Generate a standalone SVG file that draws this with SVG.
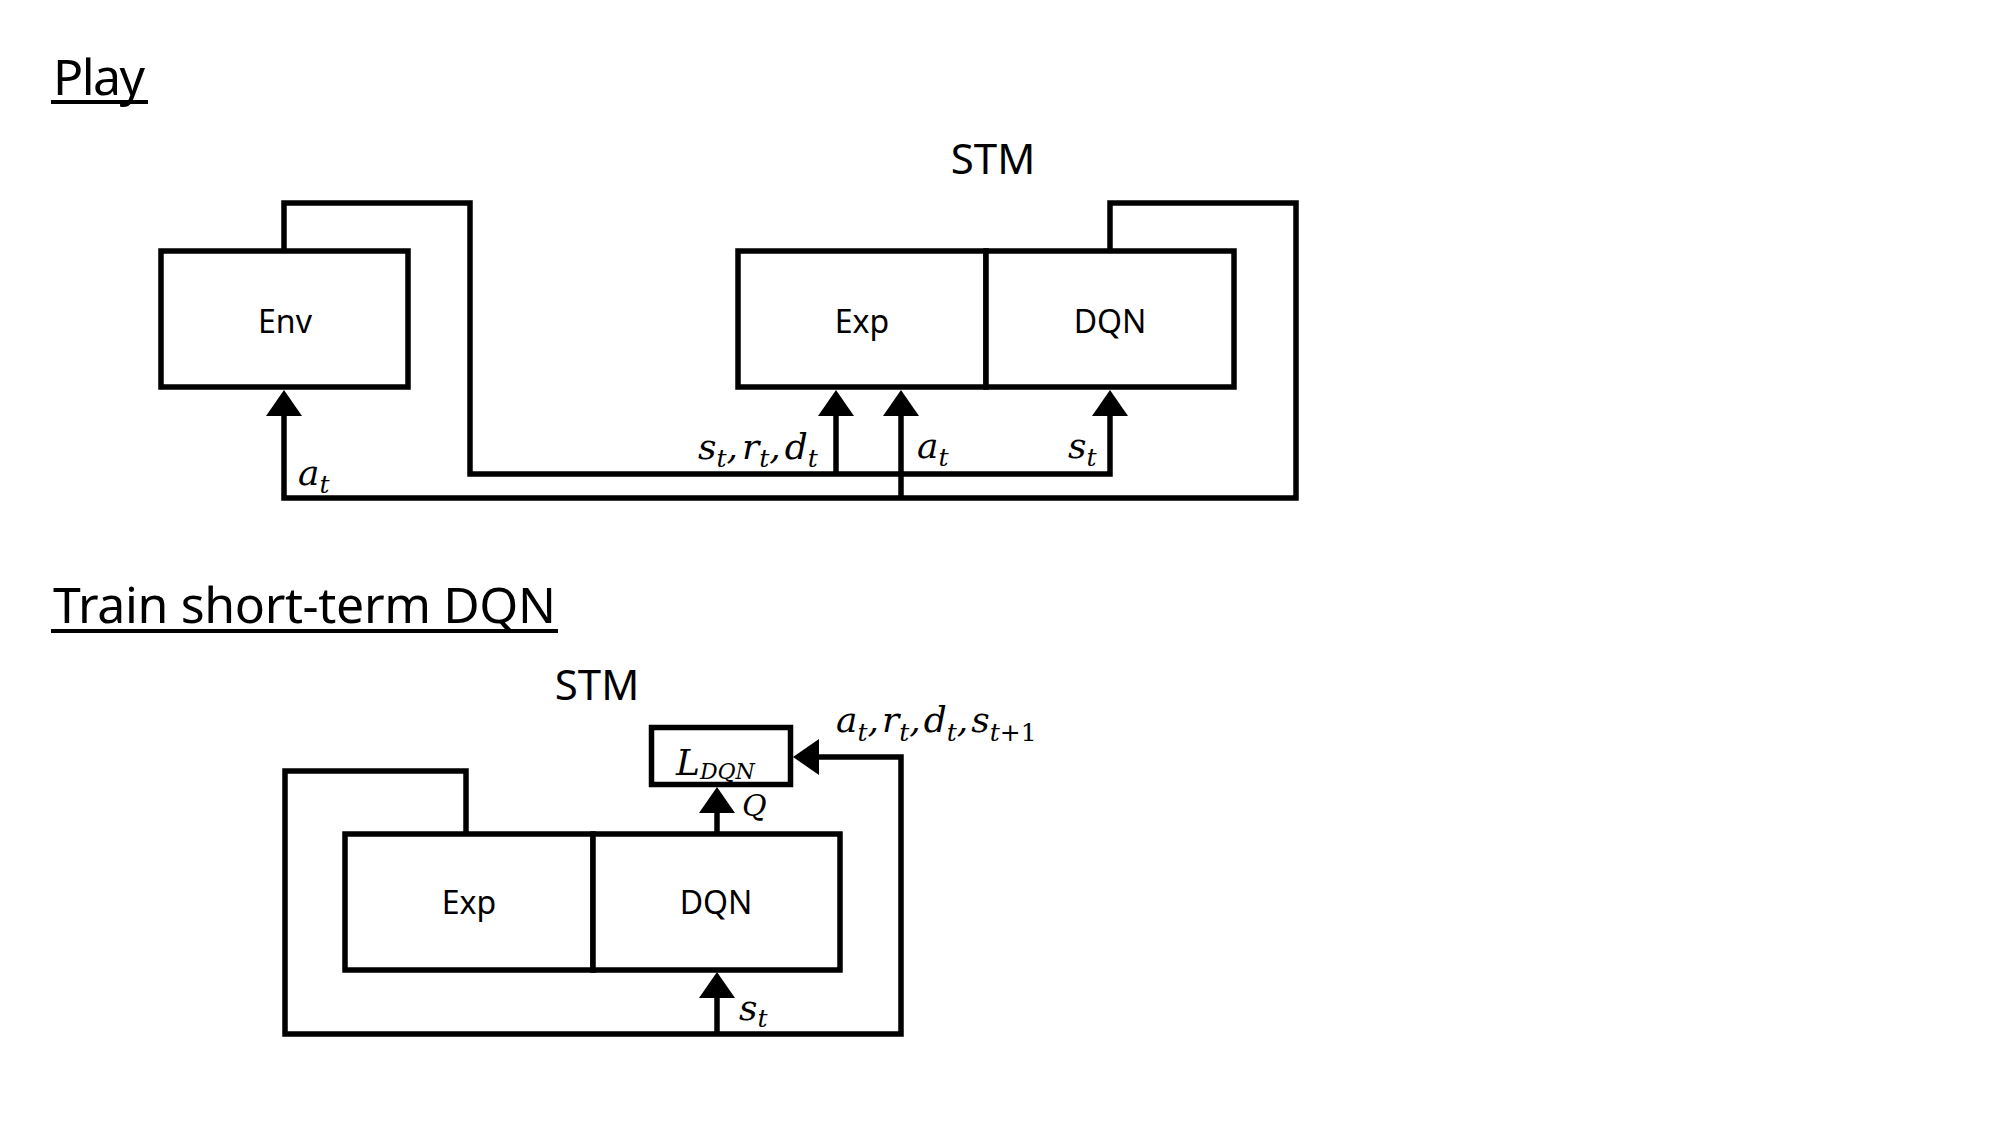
<svg xmlns="http://www.w3.org/2000/svg" width="2000" height="1125" viewBox="0 0 2000 1125">
<defs>
<style>
.box{fill:#fff;stroke:#000;stroke-width:5.5}
.wire{fill:none;stroke:#000;stroke-width:5.5;stroke-linejoin:miter;stroke-linecap:butt}
.ul{stroke:#000;stroke-width:4}
.lbl{font-family:"Noto Sans","Open Sans",sans-serif;font-size:32px;text-anchor:middle;fill:#000}
.title{font-family:"Noto Sans","Open Sans",sans-serif;font-size:50px;fill:#000}
.stm{font-family:"Noto Sans","Open Sans",sans-serif;font-size:42px;text-anchor:middle;fill:#000}
.m{font-family:"DejaVu Serif","Liberation Serif",serif;font-style:italic;font-size:36px;fill:#000}
.s{font-size:25px}
.up{font-style:normal}
</style>
<marker id="ah" markerUnits="userSpaceOnUse" viewBox="0 0 26 36" markerWidth="26" markerHeight="36" refX="2" refY="18" orient="auto">
<path d="M0,0 L26,18 L0,36 z" fill="#000"/>
</marker>
</defs>
<rect width="2000" height="1125" fill="#fff"/>

<g id="title-play">
<text class="title" x="53" y="95" textLength="92">Play</text>
<line class="ul" x1="51" y1="102" x2="148" y2="102"/>
</g>
<g id="title-train">
<text class="title" x="53" y="623" textLength="503">Train short-term DQN</text>
<line class="ul" x1="51" y1="631" x2="558" y2="631"/>
</g>

<g id="connectors">
<path class="wire" d="M284,251 V203 H470 V474 H1110 V414" marker-end="url(#ah)"/>
<path class="wire" d="M836,474 V414" marker-end="url(#ah)"/>
<path class="wire" d="M1110,251 V203 H1296 V498 H284 V414" marker-end="url(#ah)"/>
<path class="wire" d="M901,498 V414" marker-end="url(#ah)"/>
<path class="wire" d="M466,834 V771 H285 V1034 H901 V757 H817" marker-end="url(#ah)"/>
<path class="wire" d="M717,1034 V996" marker-end="url(#ah)"/>
<path class="wire" d="M717,834 V811" marker-end="url(#ah)"/>
</g>

<g id="env">
<rect class="box" x="161" y="251" width="247" height="136"/>
<text class="lbl" x="285" y="333">Env</text>
</g>

<g id="stm-play">
<text class="stm" x="993" y="174">STM</text>
<g id="exp-play">
<rect class="box" x="738" y="251" width="248" height="136"/>
<text class="lbl" x="862" y="333">Exp</text>
</g>
<g id="dqn-play">
<rect class="box" x="986" y="251" width="248" height="136"/>
<text class="lbl" x="1110" y="333">DQN</text>
</g>
</g>

<g id="stm-train">
<text class="stm" x="597" y="700">STM</text>
<g id="exp-train">
<rect class="box" x="345" y="834" width="248" height="136"/>
<text class="lbl" x="469" y="914">Exp</text>
</g>
<g id="dqn-train">
<rect class="box" x="593" y="834" width="247" height="136"/>
<text class="lbl" x="716" y="914">DQN</text>
</g>
</g>

<g id="loss">
<rect class="box" x="651.5" y="727.5" width="139" height="57"/>
<text class="m" x="676" y="775">L<tspan style="font-size:22px" y="779">DQN</tspan></text>
</g>

<g id="labels">
<text class="m"><tspan x="298" y="485">a</tspan><tspan class="s" y="493">t</tspan></text>
<text class="m"><tspan x="698" y="459">s</tspan><tspan class="s" y="467">t</tspan><tspan y="459">,</tspan><tspan dx="4" y="459">r</tspan><tspan class="s" y="467">t</tspan><tspan y="459">,</tspan><tspan dx="4" y="459">d</tspan><tspan class="s" y="467">t</tspan></text>
<text class="m"><tspan x="917" y="458">a</tspan><tspan class="s" y="466">t</tspan></text>
<text class="m"><tspan x="1068" y="458">s</tspan><tspan class="s" y="466">t</tspan></text>
<text class="m"><tspan x="836" y="732">a</tspan><tspan class="s" y="741">t</tspan><tspan y="732">,</tspan><tspan dx="3" y="732">r</tspan><tspan class="s" y="741">t</tspan><tspan y="732">,</tspan><tspan dx="3" y="732">d</tspan><tspan class="s" y="741">t</tspan><tspan y="732">,</tspan><tspan dx="3" y="732">s</tspan><tspan class="s" y="741">t</tspan><tspan class="s up" y="741">+1</tspan></text>
<text class="m" style="font-size:30px" x="742" y="816">Q</text>
<text class="m"><tspan x="739" y="1020">s</tspan><tspan class="s" y="1027">t</tspan></text>
</g>
</svg>
